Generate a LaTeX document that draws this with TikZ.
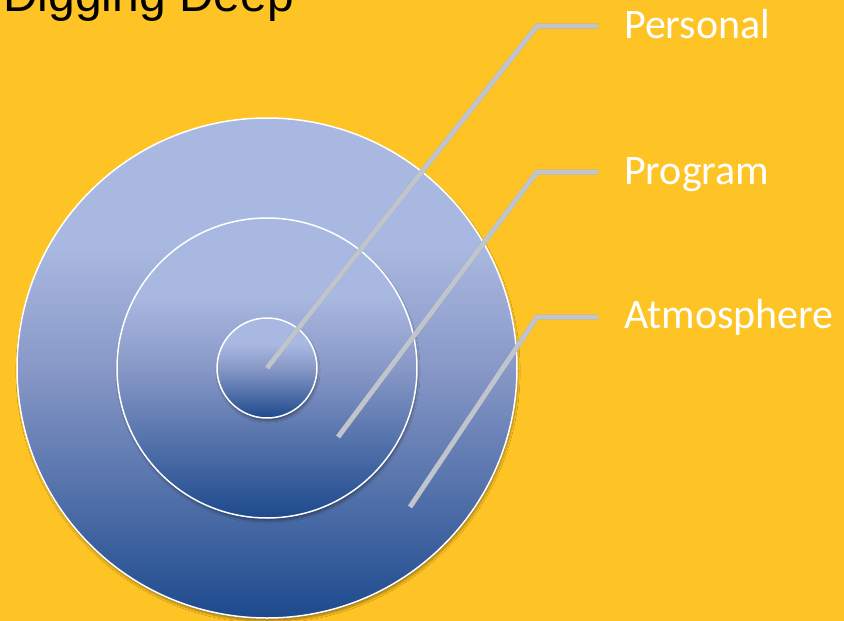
\documentclass[tikz,border=0pt]{standalone}
\usepackage{fontspec}
\setmainfont{Liberation Sans}
\newfontfamily\calloutfont{Carlito}
\usetikzlibrary{calc}
\usetikzlibrary{shadows.blur}

\definecolor{slideGold}{HTML}{FEC324}
\definecolor{ringLight}{HTML}{A9B8E0}
\definecolor{ringMid}{HTML}{8898C7}
\definecolor{ringDark}{HTML}{1D4A8D}
\definecolor{calloutGray}{HTML}{C0C4CC}

\pgfdeclareverticalshading{ringShade}{100bp}{color(0bp)=(ringDark); color(25bp)=(ringDark); color(50bp)=(ringMid); color(62bp)=(ringLight); color(75bp)=(ringLight); color(100bp)=(ringLight)}

\tikzset{
  ring/.style={shading=ringShade, draw=white, line width=1.5pt,
    blur shadow={shadow xshift=1pt, shadow yshift=-3pt, shadow blur steps=6, shadow opacity=35}},
  callout/.style={draw=calloutGray, line width=5pt},
  calloutShadow/.style={draw=black, opacity=0.18, line width=5pt},
  label/.style={anchor=base west, inner sep=0pt, text=white, font=\calloutfont\fontsize{42}{50}\selectfont}
}

\begin{document}
\begin{tikzpicture}[x=1pt, y=-1pt]

	% background
	\fill [slideGold] (0,0) rectangle (844,621);
	\useasboundingbox (0,0) rectangle (844,621);

	% title
	\node (title) [anchor=base west, inner sep=0pt, font=\fontsize{48}{56}\selectfont] at (3,12) {Digging Deep};

	% rings
	\def \outerRadius {250};
	\def \middleRadius {150};
	\def \innerRadius {50};
	\coordinate (ringCentre) at (267,368);
	\path [ring] (ringCentre) circle (\outerRadius);
	\path [ring] (ringCentre) circle (\middleRadius);
	\path [ring] (ringCentre) circle (\innerRadius);

	% callout points
	\def \cornerX {537};
	\def \endX {598};
	\coordinate (personalStart) at (ringCentre);
	\coordinate (programStart) at (338,437);
	\coordinate (atmosStart) at (410,507);
	\coordinate (personalCorner) at (\cornerX,26);
	\coordinate (programCorner) at (\cornerX,172);
	\coordinate (atmosCorner) at (\cornerX,317);
	\coordinate (personalEnd) at (\endX,26);
	\coordinate (programEnd) at (\endX,172);
	\coordinate (atmosEnd) at (\endX,317);

	% callout shadows
	\begin{scope}[shift={(1.5,2)}]
		\draw [calloutShadow] (personalStart) -- (personalCorner) -- (personalEnd);
		\draw [calloutShadow] (programStart) -- (programCorner) -- (programEnd);
		\draw [calloutShadow] (atmosStart) -- (atmosCorner) -- (atmosEnd);
	\end{scope}

	% callout lines
	\draw [callout] (personalStart) -- (personalCorner) -- (personalEnd);
	\draw [callout] (programStart) -- (programCorner) -- (programEnd);
	\draw [callout] (atmosStart) -- (atmosCorner) -- (atmosEnd);

	% labels
	\node (personal) [label] at (624,38) {Personal};
	\node (program) [label] at (624,184) {Program};
	\node (atmosphere) [label] at (624,328) {Atmosphere};

\end{tikzpicture}
\end{document}
